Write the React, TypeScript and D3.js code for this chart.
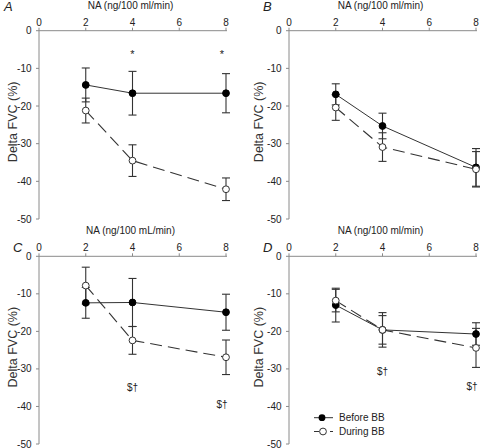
import React from "react";
import * as d3 from "d3";

const doses = [2, 4, 8];
const xTicks = [0, 2, 4, 6, 8];
const yTicks = [0, -10, -20, -30, -40, -50];

const panelLetters = ["A", "B", "C", "D"];
const xTitles = ["NA (ng/100 ml/min)", "NA (ng/100 ml/min)", "NA (ng/100 mL/min)", "NA (ng/100 ml/min)"];

const beforeA = [-14.4, -16.6, -16.6];
const beforeAErr = [4.5, 5.8, 5.2];
const duringA = [-21.2, -34.5, -42.1];
const duringAErr = [3.3, 4.2, 3.0];

const beforeB = [-16.9, -25.3, -36.3];
const beforeBErr = [2.8, 3.4, 5.0];
const duringB = [-20.4, -30.9, -36.8];
const duringBErr = [3.4, 3.8, 4.7];

const beforeC = [-12.4, -12.3, -14.9];
const beforeCErr = [4.1, 6.4, 4.8];
const duringC = [-7.8, -22.4, -26.9];
const duringCErr = [4.9, 3.7, 4.6];

const beforeD = [-13.0, -19.6, -20.7];
const beforeDErr = [4.5, 4.6, 3.0];
const duringD = [-11.8, -19.6, -24.4];
const duringDErr = [3.0, 3.8, 5.2];

// annotations: [dose, y value, text]
const annotA: [number, number, string][] = [[4, -6.2, "*"], [8, -6.3, "*"]];
const annotB: [number, number, string][] = [];
const annotC: [number, number, string][] = [[4, -34.8, "$†"], [8, -39.3, "$†"]];
const annotD: [number, number, string][] = [[4, -30.5, "$†"], [8, -34.5, "$†"]];

const seriesNames = ["Before BB", "During BB"];

const panelData = [
  { before: beforeA, beforeErr: beforeAErr, during: duringA, duringErr: duringAErr, annot: annotA },
  { before: beforeB, beforeErr: beforeBErr, during: duringB, duringErr: duringBErr, annot: annotB },
  { before: beforeC, beforeErr: beforeCErr, during: duringC, duringErr: duringCErr, annot: annotC },
  { before: beforeD, beforeErr: beforeDErr, during: duringD, duringErr: duringDErr, annot: annotD },
];

const FONT = "Liberation Sans, Arial, sans-serif";
const AXIS = "#8a8a8a";
const INK = "#333";

const layout = [
  { x0: 39, x1: 226, y0: 30.7, y1: 219, lx: 4, ly: 10.5, yl: 17, tt: 8.5 },
  { x0: 289, x1: 476, y0: 30.7, y1: 219, lx: 263, ly: 10.5, yl: 263, tt: 8.5 },
  { x0: 39, x1: 226, y0: 256.3, y1: 444, lx: 13, ly: 252, yl: 17, tt: 233.5 },
  { x0: 289, x1: 476, y0: 256.3, y1: 444, lx: 263, ly: 252, yl: 263, tt: 233.5 },
];

function Panel({ i }: { i: number }) {
  const L = layout[i];
  const d = panelData[i];
  const x = d3.scaleLinear().domain([0, 8]).range([L.x0, L.x1]);
  const y = d3.scaleLinear().domain([0, -50]).range([L.y0, L.y1]);
  const line = d3.line<[number, number]>().x((p) => x(p[0])).y((p) => y(p[1]));
  const ptsB = doses.map((t, k) => [t, d.before[k]] as [number, number]);
  const ptsD = doses.map((t, k) => [t, d.during[k]] as [number, number]);
  const cap = 4;
  const errBars = (vals: number[], errs: number[], key: string) =>
    doses.map((t, k) => {
      const cx = x(t);
      const top = y(vals[k] + errs[k]);
      const bot = y(vals[k] - errs[k]);
      return (
        <g key={key + k} stroke={INK} strokeWidth={1.1}>
          <line x1={cx} x2={cx} y1={top} y2={bot} />
          <line x1={cx - cap} x2={cx + cap} y1={top} y2={top} />
          <line x1={cx - cap} x2={cx + cap} y1={bot} y2={bot} />
        </g>
      );
    });
  const midY = (L.y0 + L.y1) / 2 - 3;
  return (
    <g>
      {/* axes */}
      <line x1={L.x0} x2={L.x1 + 1} y1={L.y0} y2={L.y0} stroke={AXIS} strokeWidth={1} />
      <line x1={L.x0} x2={L.x0} y1={L.y0} y2={L.y1} stroke={AXIS} strokeWidth={1} />
      {xTicks.map((t) => (
        <g key={"xt" + t}>
          <line x1={x(t)} x2={x(t)} y1={L.y0} y2={L.y0 - 3} stroke={AXIS} />
          <text x={x(t)} y={L.y0 - 5} textAnchor="middle" fontSize={10} fontFamily={FONT} fill="#222">
            {t}
          </text>
        </g>
      ))}
      {yTicks.map((t) => (
        <g key={"yt" + t}>
          <line x1={L.x0 - 3} x2={L.x0} y1={y(t)} y2={y(t)} stroke={AXIS} />
          <text x={L.x0 - 7.5} y={y(t) + 3.5} textAnchor="end" fontSize={10} fontFamily={FONT} fill="#222">
            {t}
          </text>
        </g>
      ))}
      <text x={(x(0) + x(8)) / 2 - 2} y={L.tt} textAnchor="middle" fontSize={10} fontFamily={FONT} fill="#222">
        {xTitles[i]}
      </text>
      <text
        transform={`translate(${L.yl},${midY}) rotate(-90)`}
        textAnchor="middle"
        fontSize={12.5}
        fontFamily={FONT}
        fill="#333"
      >
        Delta FVC (%)
      </text>
      <text x={L.lx} y={L.ly} fontSize={13} fontStyle="italic" fontFamily={FONT} fill="#222">
        {panelLetters[i]}
      </text>
      {/* lines */}
      <path d={line(ptsB) || ""} fill="none" stroke={INK} strokeWidth={1} />
      <path d={line(ptsD) || ""} fill="none" stroke={INK} strokeWidth={1.1} strokeDasharray="12,6" />
      {errBars(d.before, d.beforeErr, "eb")}
      {errBars(d.during, d.duringErr, "ed")}
      {ptsB.map((p, k) => (
        <circle key={"cb" + k} cx={x(p[0])} cy={y(p[1])} r={3.4} fill="#000" stroke="#000" />
      ))}
      {ptsD.map((p, k) => (
        <circle key={"cd" + k} cx={x(p[0])} cy={y(p[1])} r={3.4} fill="#fff" stroke={INK} strokeWidth={1} />
      ))}
      {d.annot.map((a, k) => (
        <text
          key={"an" + k}
          x={Math.min(x(a[0]), L.x1 - 4)}
          y={y(a[1]) + 4}
          textAnchor="middle"
          fontSize={a[2] === "*" ? 11 : 10}
          fontFamily={FONT}
          fill="#222"
        >
          {a[2]}
        </text>
      ))}
    </g>
  );
}

function Legend() {
  const lx = 314;
  const rows = [417.7, 431.5];
  return (
    <g fontFamily={FONT} fontSize={10} fill="#222">
      <line x1={lx} x2={lx + 19} y1={rows[0]} y2={rows[0]} stroke={INK} />
      <circle cx={lx + 8} cy={rows[0]} r={3.4} fill="#000" />
      <text x={lx + 25} y={rows[0] + 3.5}>{seriesNames[0]}</text>
      <line x1={lx} x2={lx + 5} y1={rows[1]} y2={rows[1]} stroke={INK} />
      <circle cx={lx + 9} cy={rows[1]} r={3.4} fill="#fff" stroke={INK} />
      <line x1={lx + 16} x2={lx + 19} y1={rows[1]} y2={rows[1]} stroke={INK} />
      <text x={lx + 25} y={rows[1] + 3.5}>{seriesNames[1]}</text>
    </g>
  );
}

export default function App() {
  return (
    <svg
      width={480}
      height={448}
      style={{ position: "absolute", left: 0, top: 0, background: "#fff" }}
    >
      <rect width={480} height={448} fill="#fff" />
      {[0, 1, 2, 3].map((i) => (
        <Panel key={i} i={i} />
      ))}
      <Legend />
    </svg>
  );
}
